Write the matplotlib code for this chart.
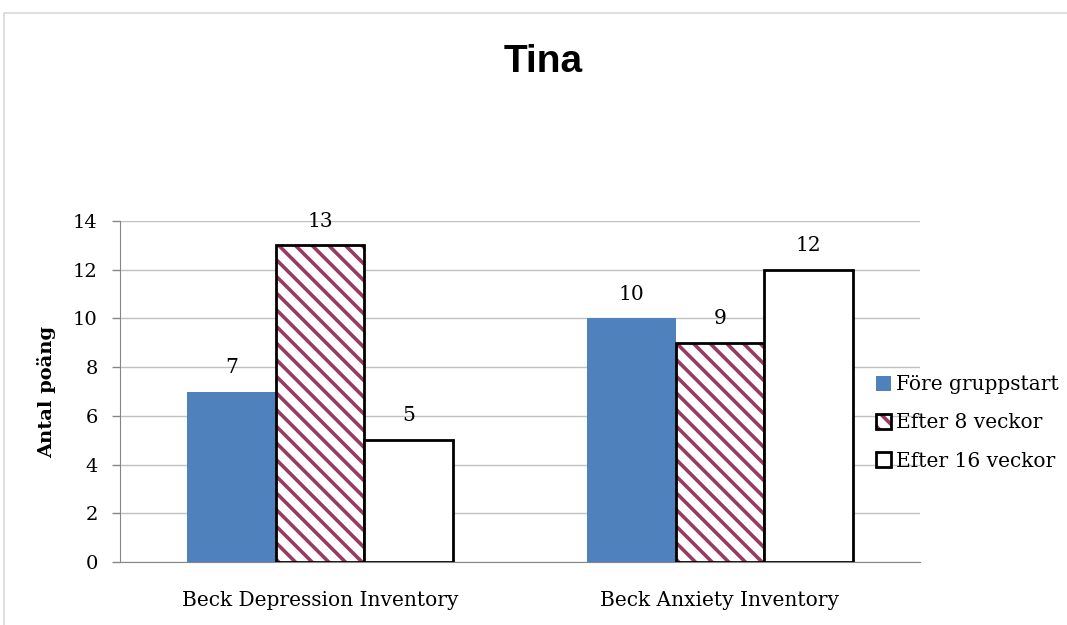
import numpy as np
import matplotlib
matplotlib.use("Agg")
import matplotlib.pyplot as plt
from matplotlib.patches import Rectangle
from matplotlib.legend_handler import HandlerTuple

# data
categories = ["Beck Depression Inventory", "Beck Anxiety Inventory"]
series_names = ["Före gruppstart", "Efter 8 veckor", "Efter 16 veckor"]
fore = [7, 10]
efter8 = [13, 9]
efter16 = [5, 12]

plt.rcParams['hatch.linewidth'] = 2.6
serif = ['DejaVu Serif']
purple = '#983A62'
fs = 14.5

fig = plt.figure(figsize=(10.67, 6.25), dpi=100)
ax = fig.add_axes([0.1125, 0.1008, 0.7497, 0.5456])

# light frame around the chart area
fig.patches.append(Rectangle((4/1067, -0.1), 1.2, 0.1 + (625-13)/625, transform=fig.transFigure,
                             fill=False, edgecolor='#d9d9d9', linewidth=1.2))

x = np.arange(len(categories))
w = 0.222

b1 = ax.bar(x - w, fore, w, color='#4F81BD', edgecolor='none', zorder=3)
# hatched bars: stripes first, black outline on top
b2 = ax.bar(x, efter8, w, color='white', edgecolor=purple, hatch='\\\\', linewidth=0, zorder=3)
b2o = ax.bar(x, efter8, w, fill=False, edgecolor='black', linewidth=2, zorder=4)
b3 = ax.bar(x + w, efter16, w, color='white', edgecolor='black', linewidth=2, zorder=4)

for bars, vals in [(b1, fore), (b2, efter8), (b3, efter16)]:
    for r, v in zip(bars, vals):
        ax.text(r.get_x() + r.get_width()/2, v + 1.0, str(v), ha='center', va='center',
                fontsize=fs, family=serif)

ax.set_xlim(-0.5, 1.5)
ax.set_ylim(0, 14)
ax.set_yticks(range(0, 15, 2))
ax.set_xticks(x)
ax.set_xticklabels(categories, fontsize=fs, family=serif)
for lab in ax.get_yticklabels():
    lab.set_family(serif)
    lab.set_fontsize(14)
ax.tick_params(axis='x', length=0, pad=21)
ax.tick_params(axis='y', length=6, width=1, color='#868686', pad=10, direction='out')
ax.yaxis.grid(True, color='#c0c0c0', linewidth=1, zorder=0)
ax.set_axisbelow(True)
for s in ['top', 'right']:
    ax.spines[s].set_visible(False)
ax.spines['left'].set_color('#868686')
ax.spines['bottom'].set_color('#868686')
ax.set_ylabel('Antal poäng', fontsize=14, fontweight='bold', family=serif, labelpad=12)

fig.text(0.509, 0.90, 'Tina', ha='center', va='center', fontsize=28, fontweight='bold',
         family=['Liberation Sans', 'DejaVu Sans'])

h2 = (b2.patches[0], b2o.patches[0])
leg = ax.legend([b1, h2, b3], series_names, loc='center left', bbox_to_anchor=(0.9225, 0.408),
                frameon=False, prop={'family': serif, 'size': fs},
                handler_map={tuple: HandlerTuple(ndivide=1, pad=0)},
                handlelength=0.75, handleheight=0.75, handletextpad=0.25, labelspacing=0.95)

fig.savefig('out.png', dpi=100)
